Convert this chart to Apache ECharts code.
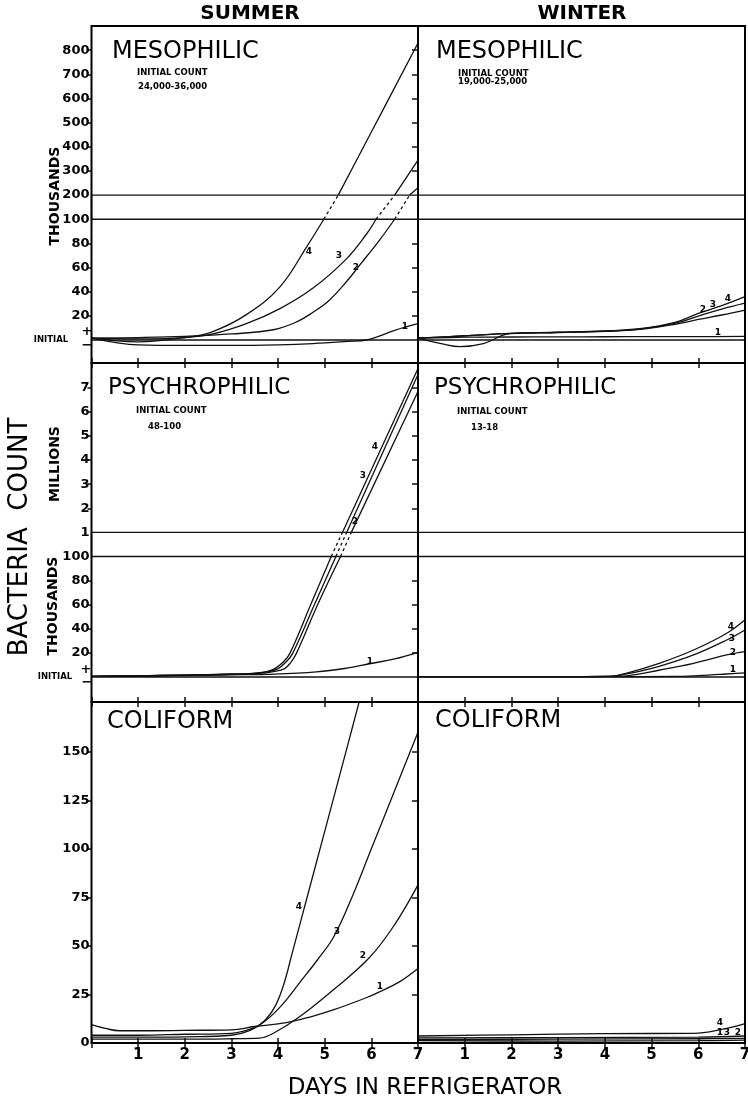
<!DOCTYPE html>
<html>
<head>
<meta charset="UTF-8">
<title>Bacteria count in refrigerator</title>
<script src="https://cdn.jsdelivr.net/npm/echarts@6.0.0/dist/echarts.min.js"></script>
<style>
  html, body { margin: 0; padding: 0; background: #fff; }
  #main { width: 748px; height: 1103px; }
</style>
</head>
<body>
<div id="main"></div>
<script>
// [day, count above initial]  (mesophilic / psychrophilic in thousands, coliform as plotted)
var mesoSummer1 = [[0,1.5],[0.5,-2],[1,-4],[2,-4.5],[3,-4.5],[4,-4],[4.75,-3],[5.5,-1.2],[5.9,0],[6.5,8],[7,13.5]];
var mesoSummer2 = [[0,1.5],[1,2],[2,3],[3,5],[3.9,8.5],[4.4,15],[4.75,23],[5.1,33],[5.46,48],[5.75,62],[6.18,83],[6.5,100],[6.82,200],[7,230]];
var mesoSummer3 = [[0,1.5],[1,1],[2,2],[2.6,5],[3.32,13.5],[4.04,26],[4.75,43],[5.46,67],[5.9,88],[6.1,100],[6.5,200],[7,345]];
var mesoSummer4 = [[0,1.5],[1,-1.5],[2,2],[2.6,7],[3.32,21],[4.04,44],[4.61,77],[4.98,100],[5.29,200],[6,461],[7,830]];

var mesoWinter1 = [[0,1.5],[1,2.3],[2,2.5],[3,2.6],[4,2.7],[5,2.8],[6,2.8],[7,3]];
var mesoWinter2 = [[0,1.5],[0.5,-3],[0.9,-5.5],[1.4,-3],[1.97,5.2],[3,6.2],[4,7.2],[4.75,8.8],[5.5,13],[6,17],[6.5,20.7],[7,24.8]];
var mesoWinter3 = [[0,1.5],[1,3.5],[2,5.5],[3,6.3],[4,7.3],[4.75,9],[5.5,13.8],[6,19.8],[6.5,25.6],[7,30.5]];
var mesoWinter4 = [[0,1.5],[1,3.5],[2,5.5],[3,6.4],[4,7.5],[4.75,9.3],[5.5,14.5],[6,22],[6.5,28.5],[7,36]];

var psySummer1 = [[0,0.5],[1,0.8],[2,1.2],[3,1.8],[3.75,2.2],[4.82,4.2],[5.5,7.5],[5.96,11],[6.5,15],[7,20.5]];
var psySummer2 = [[0,0.5],[1,1],[2,1.5],[3,2.3],[3.6,3],[3.9,4.5],[4.14,7],[4.27,12],[4.39,19.4],[4.86,61],[5.34,100],[5.57,1000],[7,6850]];
var psySummer3 = [[0,0.5],[1,1],[2,1.5],[3,2.3],[3.5,3],[3.8,4.5],[4.0,7],[4.16,12],[4.31,19.4],[4.79,61],[5.24,100],[5.47,1000],[7,7550]];
var psySummer4 = [[0,0.5],[1,1],[2,1.5],[3,2.3],[3.45,3],[3.75,4.5],[3.93,7],[4.1,12],[4.25,19.4],[4.71,61],[5.14,100],[5.38,1000],[7,7800]];

var psyWinter1 = [[0,0.3],[4,0.3],[5.5,0.5],[6,1.2],[6.6,2.5],[7,3.5]];
var psyWinter2 = [[0,0.3],[3,0.3],[4.1,0.5],[4.47,1],[5.18,5.8],[5.9,11.4],[6.61,18.3],[7,21]];
var psyWinter3 = [[0,0.3],[3,0.3],[4.1,0.5],[4.47,2.5],[5.18,9.1],[5.9,18.3],[6.61,30.7],[7,39]];
var psyWinter4 = [[0,0.3],[3,0.3],[4.1,0.5],[4.47,3.3],[5.18,11.6],[5.9,22.4],[6.61,36.3],[7,47.5]];

var coliSummer1 = [[0,9.5],[0.3,7.5],[0.6,6.3],[1,6.3],[2,6.5],[3,6.8],[3.5,8.5],[4.18,10.5],[4.7,13.5],[5.18,17],[5.89,23.3],[6.18,26.4],[6.6,31.5],[7,38.4]];
var coliSummer2 = [[0,2],[1,2],[2,2],[3,2.2],[3.6,2.5],[3.9,5],[4.46,13.5],[5.18,27.3],[5.96,44],[6.5,61],[7,81.4]];
var coliSummer3 = [[0,3],[1,3],[2,3.2],[3,4],[3.4,6.5],[3.75,11.8],[4.1,20],[4.46,31],[4.85,43],[5.2,55],[5.6,76],[6,100],[6.5,130],[7,160]];
var coliSummer4 = [[0,4],[1,4],[2,4.5],[3,5],[3.5,8],[3.75,12.5],[3.95,19.5],[4.12,30],[4.3,46],[4.6,73],[5,109],[5.5,154],[5.72,174],[6,199]];

var coliWinter1 = [[0,1.2],[3,1],[6,1.2],[7,1.5]];
var coliWinter2 = [[0,1.8],[3,2],[6,2.2],[7,2.4]];
var coliWinter3 = [[0,2.6],[3,2.8],[6,3],[7,3.6]];
var coliWinter4 = [[0,3.6],[2,4.2],[4,4.8],[5.9,5],[6.5,7],[7,10]];

// tick labels
var dayTicks = [1, 2, 3, 4, 5, 6, 7];
var lowerTicks = [20, 40, 60, 80, 100];
var mesoUpperTicks = [200, 300, 400, 500, 600, 700, 800];
var psyUpperTicks = [1000, 2000, 3000, 4000, 5000, 6000, 7000];
var coliTicks = [0, 25, 50, 75, 100, 125, 150];

var ink = '#111';
var fam = '"DejaVu Sans"';
var colLeft = [91.5, 418];
var colWidth = [326.5, 327];

var grids = [], xAxes = [], yAxes = [], series = [];

function addGrid(g) {
    g.outerBoundsMode = 'none';
    grids.push(g);
    return grids.length - 1;
}

function addAxes(gi, yOpt) {
    xAxes.push({ type: 'value', gridIndex: gi, min: 0, max: 7, show: false });
    yOpt.type = 'value';
    yOpt.gridIndex = gi;
    yAxes.push(yOpt);
    return [xAxes.length - 1, yAxes.length - 1];
}

function sideAxis(col, min, max, step, labelVals, tickVals, fmt) {
    var left = col === 0;
    return {
        min: min, max: max, interval: step,
        position: left ? 'left' : 'right',
        axisLine: { show: false },
        splitLine: { show: false },
        axisTick: { show: true, inside: !left, length: left ? 4 : 6, customValues: tickVals,
            lineStyle: { color: ink, width: 1.5 } },
        axisLabel: { show: left, customValues: labelVals, formatter: fmt, color: '#000',
            fontFamily: 'DejaVu Sans', fontWeight: 'bold', fontSize: 13, margin: 2 }
    };
}

function addCurve(ax, c, dashed) {
    if (!c || c.length < 2) return;
    series.push({
        type: 'line', xAxisIndex: ax[0], yAxisIndex: ax[1], data: c,
        showSymbol: false, smooth: dashed ? false : 0.4,
        clip: true, silent: true, z: 3,
        lineStyle: { color: ink, width: 1.3, type: dashed ? [3, 3] : 'solid' }
    });
}

// split a curve at the break values so each scale gets only its own stretch
function firstAtLeast(c, v) {
    for (var i = 0; i < c.length; i++) if (c[i][1] >= v) return i;
    return -1;
}
function splitCurve(c, low, high) {
    var i = firstAtLeast(c, low), j = firstAtLeast(c, high);
    var parts = { lower: i < 0 ? c : c.slice(0, i + 1), band: null, upper: null };
    if (j >= 0) {
        var k = j;
        while (k > 0 && c[k][1] > low) k--;
        parts.band = c.slice(k, j + 1);
        parts.upper = c.slice(j);
    }
    return parts;
}

function frame(col, top, bottom, labels) {
    var gi = addGrid({ left: colLeft[col], top: top, width: colWidth[col], height: bottom - top,
        show: true, borderColor: '#000', borderWidth: 2, backgroundColor: 'transparent', z: 4 });
    ['top', 'bottom'].forEach(function (pos) {
        xAxes.push({
            type: 'value', gridIndex: gi, min: 0, max: 7, interval: 1, position: pos,
            axisLine: { show: false }, splitLine: { show: false },
            axisTick: { show: true, inside: true, length: 5, lineStyle: { color: ink, width: 1.5 } },
            axisLabel: { show: labels && pos === 'bottom', customValues: dayTicks, color: '#000',
                fontFamily: 'DejaVu Sans', fontWeight: 'bold', fontSize: 15, margin: 5 }
        });
    });
    yAxes.push({ type: 'value', gridIndex: gi, show: false });
}

// rows with a broken scale: thousands below, break band, larger units above
var mesoRow = { top: 26, bottom: 363, y0: 340, u: 24.15, low: 100, high: 200, step: 100,
    upper: mesoUpperTicks, fmt: function (v) { return v; } };
var psyRow = { top: 363, bottom: 702, y0: 677, u: 24.1, low: 100, high: 1000, step: 1000,
    upper: psyUpperTicks, fmt: function (v) { return v / 1000; } };

function brokenPanel(col, row, curves) {
    var x = colLeft[col], w = colWidth[col];
    var upBottom = row.y0 - 6 * row.u;
    var upMax = row.high + (upBottom - row.top) / row.u * row.step;
    var parts = curves.map(function (c) { return splitCurve(c, row.low, row.high); });
    // upper scale
    var g = addGrid({ left: x, top: row.top, width: w, height: upBottom - row.top });
    var ax = addAxes(g, sideAxis(col, row.high, upMax, row.step, row.upper, row.upper.slice(1), row.fmt));
    parts.forEach(function (p) { addCurve(ax, p.upper, false); });
    // break band
    g = addGrid({ left: x, top: upBottom, width: w, height: row.u, show: true,
        borderColor: ink, borderWidth: 1.3, backgroundColor: 'transparent' });
    ax = addAxes(g, { min: row.low, max: row.high, show: false });
    parts.forEach(function (p) { addCurve(ax, p.band, true); });
    // lower scale (thousands above initial)
    g = addGrid({ left: x, top: row.y0 - 5 * row.u, width: w, height: 6 * row.u });
    ax = addAxes(g, sideAxis(col, -20, 100, 20, lowerTicks, [20, 40, 60, 80], function (v) { return v; }));
    parts.forEach(function (p) { addCurve(ax, p.lower, false); });
    series.push({ type: 'line', xAxisIndex: ax[0], yAxisIndex: ax[1], data: [[0, 0], [7, 0]],
        showSymbol: false, silent: true, z: 3, lineStyle: { color: ink, width: 1.4 } });
    frame(col, row.top, row.bottom, false);
}

function coliPanel(col, curves) {
    var top = 702, bottom = 1043, pxPerUnit = 1.942;
    var g = addGrid({ left: colLeft[col], top: top, width: colWidth[col], height: bottom - top });
    var ax = addAxes(g, sideAxis(col, 0, (bottom - top) / pxPerUnit, 25, coliTicks, coliTicks.slice(1),
        function (v) { return v; }));
    curves.forEach(function (c) { addCurve(ax, c, false); });
    frame(col, top, bottom, true);
}

brokenPanel(0, mesoRow, [mesoSummer1, mesoSummer2, mesoSummer3, mesoSummer4]);
brokenPanel(1, mesoRow, [mesoWinter1, mesoWinter2, mesoWinter3, mesoWinter4]);
brokenPanel(0, psyRow, [psySummer1, psySummer2, psySummer3, psySummer4]);
brokenPanel(1, psyRow, [psyWinter1, psyWinter2, psyWinter3, psyWinter4]);
coliPanel(0, [coliSummer1, coliSummer2, coliSummer3, coliSummer4]);
coliPanel(1, [coliWinter1, coliWinter2, coliWinter3, coliWinter4]);

function txt(x, y, s, size, weight, align, rot) {
    return {
        type: 'text', x: x, y: y, rotation: rot || 0, silent: true, z: 10,
        style: { text: s, fill: '#000', font: (weight || 'normal') + ' ' + size + 'px ' + fam,
            textAlign: align || 'left', textVerticalAlign: 'middle' }
    };
}
var up = Math.PI / 2;
var graphics = [
    txt(250, 14, 'SUMMER', 20, 'bold', 'center'),
    txt(582, 14, 'WINTER', 20, 'bold', 'center'),
    txt(112, 52, 'MESOPHILIC', 24), txt(436, 52, 'MESOPHILIC', 24),
    txt(108, 388, 'PSYCHROPHILIC', 23), txt(434, 388, 'PSYCHROPHILIC', 23),
    txt(107, 722, 'COLIFORM', 24), txt(435, 721, 'COLIFORM', 24),
    txt(137, 73, 'INITIAL COUNT', 8.5, 'bold'), txt(138, 87, '24,000-36,000', 8.5, 'bold'),
    txt(458, 74, 'INITIAL COUNT', 8.5, 'bold'), txt(458, 82, '19,000-25,000', 8.5, 'bold'),
    txt(136, 411, 'INITIAL COUNT', 8.5, 'bold'), txt(148, 427, '48-100', 8.5, 'bold'),
    txt(457, 412, 'INITIAL COUNT', 8.5, 'bold'), txt(471, 428, '13-18', 8.5, 'bold'),
    txt(55, 196, 'THOUSANDS', 14, 'bold', 'center', up),
    txt(55, 464, 'MILLIONS', 14, 'bold', 'center', up),
    txt(53, 606, 'THOUSANDS', 14, 'bold', 'center', up),
    txt(20, 537, 'BACTERIA  COUNT', 26, 'normal', 'center', up),
    txt(51, 340, 'INITIAL', 8.5, 'bold', 'center'), txt(55, 677, 'INITIAL', 8.5, 'bold', 'center'),
    txt(87, 332, '+', 13, 'bold', 'center'), txt(87, 346, '\u2212', 13, 'bold', 'center'),
    txt(86, 670, '+', 13, 'bold', 'center'), txt(87, 683, '\u2212', 13, 'bold', 'center'),
    txt(425, 1088, 'DAYS IN REFRIGERATOR', 23, 'normal', 'center'),
    // curve numbers
    txt(309, 252, '4', 9, 'bold', 'center'), txt(339, 256, '3', 9, 'bold', 'center'),
    txt(356, 268, '2', 9, 'bold', 'center'), txt(405, 327, '1', 9, 'bold', 'center'),
    txt(703, 310, '2', 9, 'bold', 'center'), txt(713, 305, '3', 9, 'bold', 'center'),
    txt(728, 299, '4', 9, 'bold', 'center'), txt(718, 333, '1', 9, 'bold', 'center'),
    txt(375, 447, '4', 9, 'bold', 'center'), txt(363, 476, '3', 9, 'bold', 'center'),
    txt(355, 522, '2', 9, 'bold', 'center'), txt(370, 662, '1', 9, 'bold', 'center'),
    txt(731, 627, '4', 9, 'bold', 'center'), txt(732, 639, '3', 9, 'bold', 'center'),
    txt(733, 653, '2', 9, 'bold', 'center'), txt(733, 670, '1', 9, 'bold', 'center'),
    txt(299, 907, '4', 9, 'bold', 'center'), txt(337, 932, '3', 9, 'bold', 'center'),
    txt(363, 956, '2', 9, 'bold', 'center'), txt(380, 987, '1', 9, 'bold', 'center'),
    txt(720, 1023, '4', 9, 'bold', 'center'), txt(720, 1033, '1', 9, 'bold', 'center'),
    txt(727, 1033, '3', 9, 'bold', 'center'), txt(738, 1033, '2', 9, 'bold', 'center')
];

var myChart = echarts.init(document.getElementById('main'), null, { renderer: 'canvas' });
myChart.setOption({
    animation: false,
    backgroundColor: '#fff',
    textStyle: { fontFamily: 'DejaVu Sans' },
    grid: grids,
    xAxis: xAxes,
    yAxis: yAxes,
    series: series,
    graphic: graphics
});
</script>
</body>
</html>
